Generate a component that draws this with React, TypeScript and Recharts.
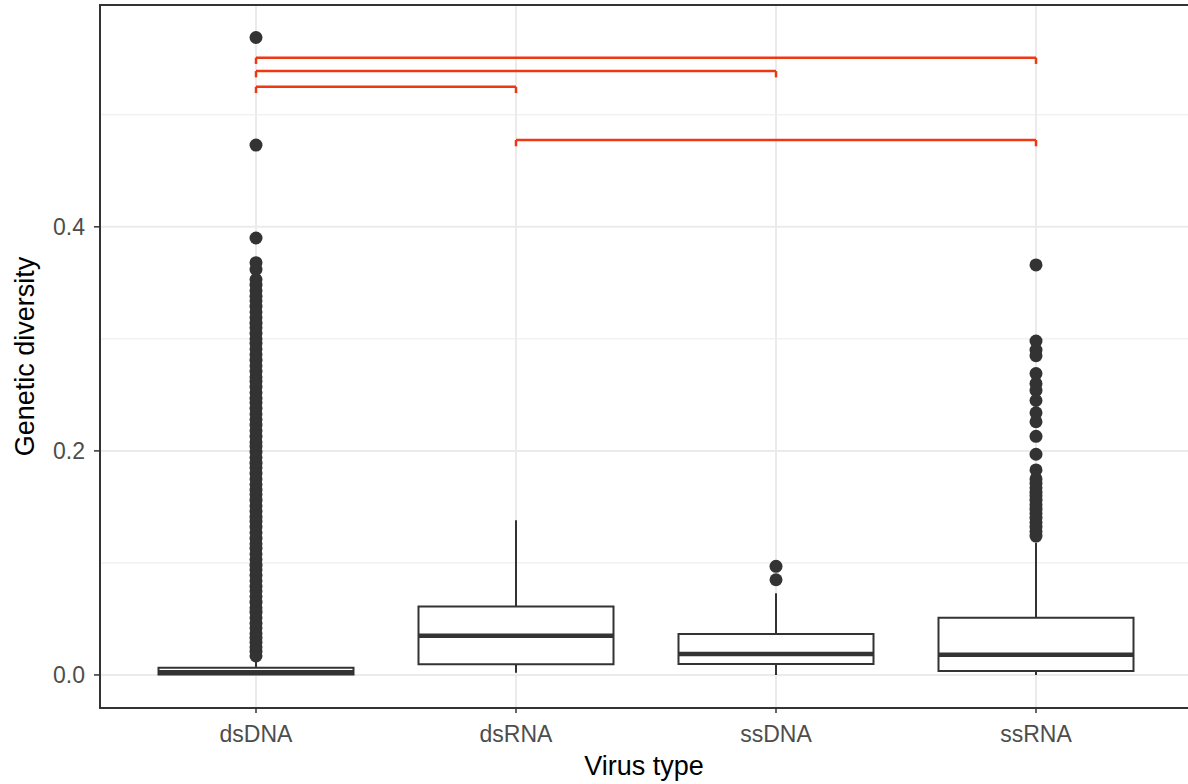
import {
  ComposedChart,
  XAxis,
  YAxis,
  CartesianGrid,
  Scatter,
  ReferenceArea,
  ReferenceLine,
  Label,
} from "recharts";

const virusTypes = ["dsDNA", "dsRNA", "ssDNA", "ssRNA"];

// box stats per virus type
const lowerWhisker = [0, 0.002, 0, 0];
const q1 = [0.0005, 0.0095, 0.0098, 0.0036];
const medians = [0.0025, 0.035, 0.0188, 0.018];
const q3 = [0.0065, 0.061, 0.0366, 0.051];
const upperWhisker = [0.015, 0.138, 0.073, 0.118];

const dsDNAOutliers = [
  0.569, 0.473, 0.39, 0.368, 0.362, 0.353, 0.348, 0.343, 0.338, 0.334, 0.329,
  0.324, 0.319, 0.314, 0.31, 0.305, 0.3, 0.296, 0.291, 0.286, 0.281, 0.276,
  0.271, 0.266, 0.262, 0.257, 0.252, 0.247, 0.243, 0.238, 0.233, 0.228, 0.223,
  0.218, 0.213, 0.208, 0.204, 0.199, 0.194, 0.189, 0.185, 0.18, 0.175, 0.17,
  0.165, 0.161, 0.156, 0.151, 0.146, 0.141, 0.137, 0.132, 0.127, 0.122, 0.117,
  0.113, 0.108, 0.103, 0.098, 0.094, 0.089, 0.084, 0.079, 0.075, 0.07, 0.065,
  0.06, 0.056, 0.051, 0.046, 0.042, 0.037, 0.033, 0.029, 0.025, 0.021, 0.017,
];
const dsRNAOutliers: number[] = [];
const ssDNAOutliers = [0.097, 0.085];
const ssRNAOutliers = [
  0.366, 0.298, 0.29, 0.285, 0.269, 0.26, 0.254, 0.245, 0.234, 0.226, 0.213,
  0.197, 0.183, 0.175, 0.171, 0.167, 0.163, 0.16, 0.156, 0.152, 0.148, 0.144,
  0.14, 0.136, 0.132, 0.128, 0.124,
];

// significance brackets: [from, to] index pairs and their heights
const comparisons = [
  [0, 3],
  [0, 2],
  [0, 1],
  [1, 3],
];
const bracketHeights = [0.551, 0.539, 0.525, 0.4775];

const yTicks = [0, 0.2, 0.4];
const yMinorTicks = [0.1, 0.3, 0.5];

const outlierPoints = [dsDNAOutliers, dsRNAOutliers, ssDNAOutliers, ssRNAOutliers]
  .flatMap((vals, i) => vals.map((v) => ({ x: i + 1, y: v })));

const Y_MIN = -0.0295;
const Y_MAX = 0.598;
const HALF = 0.375;
const TIP = 0.0056;
const DARK = "#333333";
const RED = "#ee3814";
const FONT = "'Liberation Sans', Arial, sans-serif";

const Dot = (props: any) => (
  <circle cx={props.cx} cy={props.cy} r={6.5} fill={DARK} />
);

export default function App() {
  return (
    <div style={{ position: "fixed", left: 0, top: 0, background: "#fff" }}>
      <ComposedChart
        width={1194}
        height={784}
        margin={{ top: 5, right: 2, bottom: 0, left: 0 }}
        style={{ fontFamily: FONT }}
      >
        <CartesianGrid
          horizontalValues={yMinorTicks}
          vertical={false}
          stroke="#ebebeb"
          strokeWidth={1}
        />
        <CartesianGrid
          horizontalValues={yTicks}
          verticalValues={[1, 2, 3, 4]}
          stroke="#ebebeb"
          strokeWidth={2}
        />
        <XAxis
          type="number"
          dataKey="x"
          domain={[0.4, 4.6]}
          allowDataOverflow
          ticks={[1, 2, 3, 4]}
          tickFormatter={(v) => virusTypes[v - 1]}
          height={76}
          axisLine={false}
          tickSize={5}
          tickMargin={13}
          tickLine={{ stroke: DARK, strokeWidth: 1.5 }}
          tick={{ fill: "#4d4d4d", fontSize: 23, fontFamily: FONT }}
        >
          <Label
            content={(p: any) => {
              const vb = p.viewBox;
              return (
                <text
                  x={644}
                  y={775}
                  textAnchor="middle"
                  fill="#000"
                  fontSize={27}
                  fontFamily={FONT}
                >
                  Virus type
                </text>
              );
            }}
          />
        </XAxis>
        <YAxis
          type="number"
          dataKey="y"
          domain={[Y_MIN, Y_MAX]}
          allowDataOverflow
          ticks={yTicks}
          tickFormatter={(v) => v.toFixed(1)}
          width={100}
          axisLine={false}
          tickSize={6}
          tickMargin={9}
          tickLine={{ stroke: DARK, strokeWidth: 1.5 }}
          tick={{ fill: "#4d4d4d", fontSize: 23, fontFamily: FONT }}
        >
          <Label
            content={(p: any) => {
              const vb = p.viewBox;
              const cx = 34;
              const cy = vb.y + vb.height / 2;
              return (
                <text
                  x={cx}
                  y={cy}
                  textAnchor="middle"
                  fill="#000"
                  fontSize={27}
                  fontFamily={FONT}
                  transform={`rotate(-90, ${cx}, ${cy})`}
                >
                  Genetic diversity
                </text>
              );
            }}
          />
        </YAxis>

        {virusTypes.map((_, i) => (
          <ReferenceLine
            key={`wu${i}`}
            segment={[
              { x: i + 1, y: q3[i] },
              { x: i + 1, y: upperWhisker[i] },
            ]}
            stroke={DARK}
            strokeWidth={2}
          />
        ))}
        {virusTypes.map((_, i) => (
          <ReferenceLine
            key={`wl${i}`}
            segment={[
              { x: i + 1, y: q1[i] },
              { x: i + 1, y: lowerWhisker[i] },
            ]}
            stroke={DARK}
            strokeWidth={2}
          />
        ))}
        {virusTypes.map((_, i) => (
          <ReferenceArea
            key={`box${i}`}
            x1={i + 1 - HALF}
            x2={i + 1 + HALF}
            y1={q1[i]}
            y2={q3[i]}
            fill="#ffffff"
            fillOpacity={1}
            stroke={DARK}
            strokeWidth={2}
          />
        ))}
        {virusTypes.map((_, i) => (
          <ReferenceLine
            key={`med${i}`}
            segment={[
              { x: i + 1 - HALF, y: medians[i] },
              { x: i + 1 + HALF, y: medians[i] },
            ]}
            stroke={DARK}
            strokeWidth={4.5}
          />
        ))}

        <Scatter
          data={outlierPoints}
          dataKey="y"
          shape={Dot}
          isAnimationActive={false}
        />

        {comparisons.map(([a, b], k) => (
          <ReferenceLine
            key={`br${k}`}
            segment={[
              { x: a + 1, y: bracketHeights[k] },
              { x: b + 1, y: bracketHeights[k] },
            ]}
            stroke={RED}
            strokeWidth={2.5}
          />
        ))}
        {comparisons.map(([a], k) => (
          <ReferenceLine
            key={`bl${k}`}
            segment={[
              { x: a + 1, y: bracketHeights[k] },
              { x: a + 1, y: bracketHeights[k] - TIP },
            ]}
            stroke={RED}
            strokeWidth={2.5}
          />
        ))}
        {comparisons.map(([, b], k) => (
          <ReferenceLine
            key={`br2${k}`}
            segment={[
              { x: b + 1, y: bracketHeights[k] },
              { x: b + 1, y: bracketHeights[k] - TIP },
            ]}
            stroke={RED}
            strokeWidth={2.5}
          />
        ))}

        <ReferenceArea
          x1={0.4}
          x2={4.6}
          y1={Y_MIN}
          y2={Y_MAX}
          fill="none"
          stroke={DARK}
          strokeWidth={2}
        />
      </ComposedChart>
    </div>
  );
}
